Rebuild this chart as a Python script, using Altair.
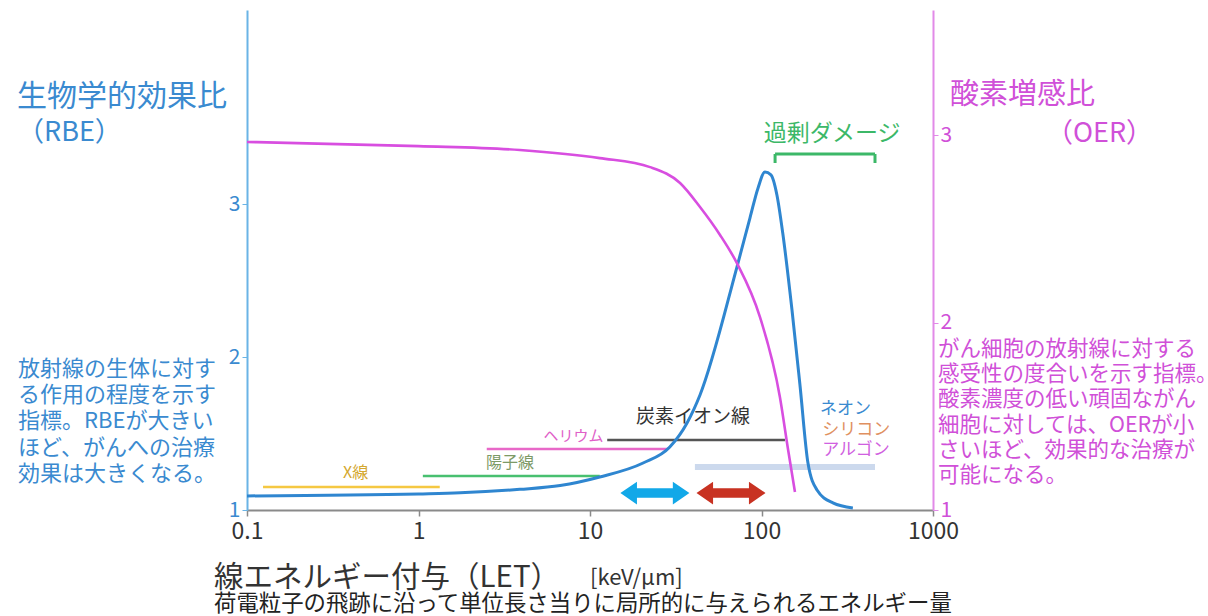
import altair as alt
import pandas as pd

FONT = "Noto Sans CJK JP"

# ---------------- data ----------------
rbe_let = [0.1, 1.0, 1.75, 3.9, 6.7, 11.4, 20.4, 29.2, 36.8, 43.8, 71.9, 85.7,
           95.5, 104.7, 113.5, 123, 133, 150.6, 167.6, 186.6, 210.7, 261, 341]
rbe_val = [1.092, 1.105, 1.112, 1.135, 1.160, 1.216, 1.307, 1.412, 1.569, 1.752,
           2.588, 2.91, 3.105, 3.209, 3.19, 3.059, 2.81, 2.307, 1.817, 1.307,
           1.131, 1.046, 1.013]

oer_let = [0.1, 1.0, 3.9, 11.4, 22.4, 33.5, 43.8, 57.3, 71.9, 98, 128, 143, 156.7]
oer_val = [2.963, 2.941, 2.920, 2.877, 2.829, 2.744, 2.616, 2.467, 2.317, 2.029,
           1.603, 1.32, 1.096]

range_names = ["X線", "陽子線", "ヘリウム", "炭素イオン線"]
range_start = [0.124, 1.06, 2.5, 12.6]
range_end = [1.33, 11.4, 28.5, 137]
range_level = [1.150, 1.222, 1.399, 1.458]

heavy_start = [40.9]
heavy_end = [459]
heavy_level = [1.281]

center_labels = ["X線", "陽子線", "ヘリウム", "炭素イオン線", "過剰ダメージ"]
center_label_let = [0.43, 3.42, 8.0, 39.9, 258]
center_label_rbe = [1.245, 1.305, 1.484, 1.605, 3.455]

left_labels = ["ネオン", "シリコン", "アルゴン"]
left_label_let = [219, 226, 226]
left_label_rbe = [1.66, 1.523, 1.392]

arrow_names = ["blue", "red"]
arrow_let = [23.9, 66.4]
arrow_rbe = [1.111, 1.111]

bracket_start = [120]
bracket_end = [459]
bracket_top = [3.327]
bracket_foot = [3.268]

x_ticks = [0.1, 1, 10, 100, 1000]
y_ticks = [1, 2, 3]

# ---------------- styles ----------------
BLUE = "#2f86d0"
MAGENTA = "#d84ee0"
label_colors = {"X線": "#d4a830", "陽子線": "#7d9a66", "ヘリウム": "#e060c8",
                "炭素イオン線": "#333333", "過剰ダメージ": "#3cb868",
                "ネオン": "#3a8ad0", "シリコン": "#e09060", "アルゴン": "#d060e0"}
label_sizes = {"X線": 16, "陽子線": 16, "ヘリウム": 15, "炭素イオン線": 19, "過剰ダメージ": 23,
               "ネオン": 17, "シリコン": 17, "アルゴン": 17}
line_colors = {"X線": "#f5c842", "陽子線": "#48c070", "ヘリウム": "#e868c8",
               "炭素イオン線": "#555555"}
arrow_colors = {"blue": "#12a8e8", "red": "#c83222"}
ARROW_PATH = ("M -1 0 L -0.52 -0.33 L -0.52 -0.14 L 0.52 -0.14 L 0.52 -0.33 "
              "L 1 0 L 0.52 0.33 L 0.52 0.14 L -0.52 0.14 L -0.52 0.33 Z")

x_scale = alt.Scale(type="log", domain=[0.1, 1000], nice=False)
x_axis = alt.Axis(values=x_ticks, format="~g", labelFont=FONT, labelFontSize=23,
                  labelColor="#333333", domainColor="#8a8a8a", domainWidth=2,
                  tickColor="#8a8a8a", tickSize=6, tickWidth=1.5, labelPadding=4,
                  grid=False, title=None, labelFlush=False)
rbe_scale = alt.Scale(domain=[1, 4.268], nice=False, zero=False)
rbe_axis = alt.Axis(values=y_ticks, format="d", labelFont=FONT, labelFontSize=21,
                    labelColor="#3a8ad0", domainColor="#6ab4e6", domainWidth=2,
                    tickColor="#6ab4e6", tickSize=5, labelPadding=2, grid=False,
                    title=None, orient="left")
oer_scale = alt.Scale(domain=[1, 3.667], nice=False, zero=False)
oer_axis = alt.Axis(values=y_ticks, format="d", labelFont=FONT, labelFontSize=21,
                    labelColor="#d050d8", domainColor="#e28ae8", domainWidth=2,
                    tickColor="#e28ae8", tickSize=5, labelPadding=2, grid=False,
                    title=None, orient="right")


def X(field="let"):
    return alt.X(f"{field}:Q", scale=x_scale, axis=x_axis)


def Y(field="rbe"):
    return alt.Y(f"{field}:Q", scale=rbe_scale, axis=rbe_axis)


rbe_df = pd.DataFrame({"let": rbe_let, "rbe": rbe_val})
oer_df = pd.DataFrame({"let": oer_let, "oer": oer_val})
range_df = pd.DataFrame({"let": range_start, "let2": range_end, "rbe": range_level,
                         "name": range_names})
range_df["col"] = [line_colors[n] for n in range_names]
heavy_df = pd.DataFrame({"let": heavy_start, "let2": heavy_end, "rbe": heavy_level})
clab_df = pd.DataFrame({"let": center_label_let, "rbe": center_label_rbe,
                        "name": center_labels})
llab_df = pd.DataFrame({"let": left_label_let, "rbe": left_label_rbe,
                        "name": left_labels})
for d, names in ((clab_df, center_labels), (llab_df, left_labels)):
    d["col"] = [label_colors[n] for n in names]
    d["size"] = [label_sizes[n] for n in names]
arrow_df = pd.DataFrame({"let": arrow_let, "rbe": arrow_rbe, "name": arrow_names})
arrow_df["col"] = [arrow_colors[n] for n in arrow_names]
br_h = pd.DataFrame({"let": bracket_start, "let2": bracket_end, "rbe": bracket_top})
br_v = pd.DataFrame({"let": bracket_start + bracket_end,
                     "rbe": bracket_foot * 2, "rbe2": bracket_top * 2})

COL = alt.Color("col:N", scale=None, legend=None)

heavy = alt.Chart(heavy_df).mark_rule(strokeWidth=6, opacity=0.4, color="#7f9fd2").encode(
    x=X(), x2="let2:Q", y=Y())
ranges = alt.Chart(range_df).mark_rule(strokeWidth=2.6).encode(
    x=X(), x2="let2:Q", y=Y(), color=COL)
rbe_line = alt.Chart(rbe_df).mark_line(color=BLUE, strokeWidth=3,
                                       interpolate="monotone").encode(x=X(), y=Y())
arrows = alt.Chart(arrow_df).mark_point(shape=ARROW_PATH, size=4761, filled=True,
                                        opacity=1).encode(x=X(), y=Y(), color=COL)
bracket_h = alt.Chart(br_h).mark_rule(strokeWidth=3, color="#3cb868").encode(
    x=X(), x2="let2:Q", y=Y())
bracket_v = alt.Chart(br_v).mark_rule(strokeWidth=3, color="#3cb868").encode(
    x=X(), y=Y(), y2="rbe2:Q")
clabels = alt.Chart(clab_df).mark_text(font=FONT, align="center", baseline="middle").encode(
    x=X(), y=Y(), text="name:N", color=COL,
    size=alt.Size("size:Q", scale=None, legend=None))
llabels = alt.Chart(llab_df).mark_text(font=FONT, align="left", baseline="middle").encode(
    x=X(), y=Y(), text="name:N", color=COL,
    size=alt.Size("size:Q", scale=None, legend=None))

one = pd.DataFrame({"a": [0]})


def txt(text, x, y, size, color, **kw):
    return alt.Chart(one).mark_text(font=FONT, fontSize=size, color=color, align="left",
                                    baseline="alphabetic", **kw).encode(
        x=alt.value(x), y=alt.value(y), text=alt.value(text))


texts = [
    txt("生物学的効果比", -230, 96, 30, "#3a8ad0"),
    txt("（RBE）", -230, 131, 27, "#3a8ad0"),
    txt(["放射線の生体に対す", "る作用の程度を示す", "指標。RBEが大きい",
         "ほど、がんへの治療", "効果は大きくなる。"], -229, 366, 22, "#3a8ad0",
        lineHeight=26.2),
    txt("酸素増感比", 703, 94, 29, "#d050d8"),
    txt("（OER）", 799, 132, 27, "#d050d8"),
    txt(["がん細胞の放射線に対する", "感受性の度合いを示す指標。", "酸素濃度の低い頑固ながん",
         "細胞に対しては、OERが小", "さいほど、効果的な治療が", "可能になる。"],
        691, 346, 21.5, "#d050d8", lineHeight=25.2),
    txt("線エネルギー付与（LET）", -33, 577, 29.5, "#333333"),
    txt("[keV/μm]", 343, 575, 22, "#333333"),
    txt("荷電粒子の飛跡に沿って単位長さ当りに局所的に与えられるエネルギー量", -33, 601, 22.4,
        "#222222"),
]

rbe_group = alt.layer(heavy, ranges, rbe_line, arrows, bracket_h, bracket_v,
                      clabels, llabels, *texts)

oer_line = alt.Chart(oer_df).mark_line(color=MAGENTA, strokeWidth=2.6,
                                       interpolate="monotone").encode(
    x=X(), y=alt.Y("oer:Q", scale=oer_scale, axis=oer_axis))

chart = alt.layer(rbe_group, oer_line).resolve_scale(y="independent").properties(
    width=686, height=500,
    padding={"left": 247, "top": 10, "right": 275, "bottom": 106},
    autosize=alt.AutoSizeParams(type="none"),
    background="white",
).configure_view(stroke=None)

chart.save("out.html", embed_options={"renderer": "svg", "actions": False})
